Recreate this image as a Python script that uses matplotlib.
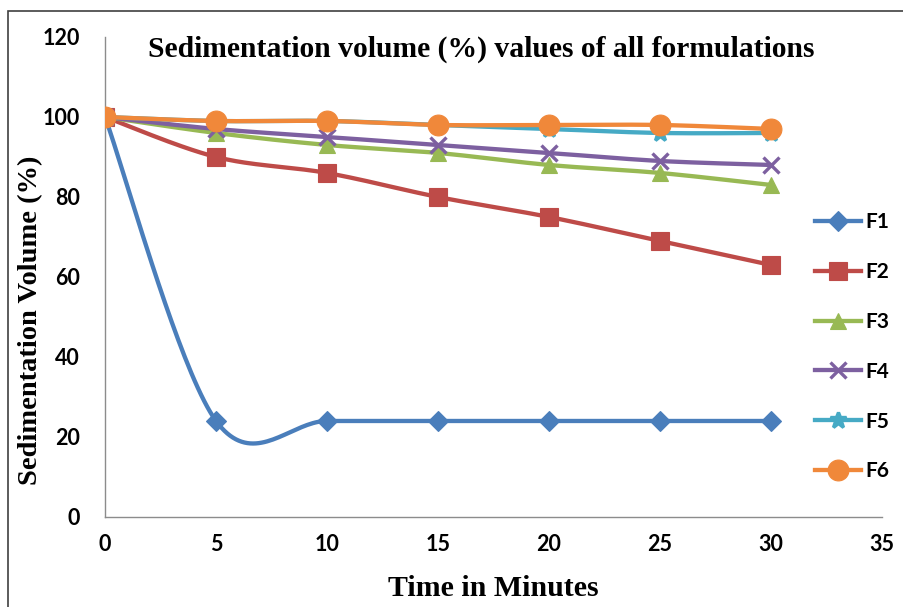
import numpy as np
import matplotlib
matplotlib.use("Agg")
import matplotlib.pyplot as plt
from matplotlib.patches import Rectangle
from matplotlib.lines import Line2D

# data
minutes = [0, 5, 10, 15, 20, 25, 30]
F1 = [100, 24, 24, 24, 24, 24, 24]
F2 = [100, 90, 86, 80, 75, 69, 63]
F3 = [100, 96, 93, 91, 88, 86, 83]
F4 = [100, 97, 95, 93, 91, 89, 88]
F5 = [100, 99, 99, 98, 97, 96, 96]
F6 = [100, 99, 99, 98, 98, 98, 97]
names = ["F1", "F2", "F3", "F4", "F5", "F6"]
series = [F1, F2, F3, F4, F5, F6]
colors = ["#4A7EBB", "#BE4B48", "#98B954", "#7D60A0", "#46AAC5", "#F0883A"]
markers = ["D", "s", "^", "x", "*", "o"]
msizes = [10.5, 13, 12, 12, 12, 15]


def smooth(x, y, n=40):
    # Excel-style smoothed line: Catmull-Rom through the points as cubic Beziers
    x = np.asarray(x, float)
    y = np.asarray(y, float)
    px = np.concatenate([[x[0]], x, [x[-1]]])
    py = np.concatenate([[y[0]], y, [y[-1]]])
    xs, ys = [], []
    t = np.linspace(0, 1, n)
    for i in range(1, len(px) - 2):
        p0 = np.array([px[i], py[i]])
        p3 = np.array([px[i + 1], py[i + 1]])
        c1 = p0 + (np.array([px[i + 1], py[i + 1]]) - np.array([px[i - 1], py[i - 1]])) / 6
        c2 = p3 - (np.array([px[i + 2], py[i + 2]]) - np.array([px[i], py[i]])) / 6
        b = ((1 - t) ** 3)[:, None] * p0 + (3 * t * (1 - t) ** 2)[:, None] * c1 \
            + (3 * t ** 2 * (1 - t))[:, None] * c2 + (t ** 3)[:, None] * p3
        xs.extend(b[:, 0])
        ys.extend(b[:, 1])
    return xs, ys


fig = plt.figure(figsize=(9.04, 6.07), dpi=100)
ax = fig.add_axes([0.1162, 0.1483, 0.8595, 0.7908])

handles = []
for name, vals, c, m, ms in zip(names, series, colors, markers, msizes):
    sx, sy = smooth(minutes, vals)
    ax.plot(sx, sy, color=c, lw=3.1, solid_capstyle="round", zorder=2)
    mew = 2.4 if m in ("x", "*") else 0.8
    ax.plot(minutes, vals, ls="none", marker=m, ms=ms, color=c, mec=c, mew=mew, zorder=3)
    handles.append(Line2D([], [], color=c, lw=3.1, marker=m, ms=ms, mec=c, mew=mew))

ax.set_xlim(0, 35)
ax.set_ylim(0, 120)
ax.set_xticks(range(0, 36, 5))
ax.set_yticks(range(0, 121, 20))
for s in ["top", "right"]:
    ax.spines[s].set_visible(False)
for s in ["left", "bottom"]:
    ax.spines[s].set_color("#8C8C8C")
    ax.spines[s].set_linewidth(1.0)
ax.tick_params(axis="x", length=0, pad=12)
ax.tick_params(axis="y", length=0, pad=18)
for lab in ax.get_xticklabels() + ax.get_yticklabels():
    lab.set_fontfamily("Lato")
    lab.set_fontweight("bold")
    lab.set_fontsize(15.5)

fig.text(0.532, 0.918, "Sedimentation volume (%) values of all formulations",
         ha="center", va="center", family="Liberation Serif", weight="bold", fontsize=21.3)
fig.text(0.546, 0.031, "Time in Minutes", ha="center", va="center",
         family="Liberation Serif", weight="bold", fontsize=21.5)
fig.text(0.034, 0.473, "Sedimentation Volume (%)", ha="center", va="center", rotation=90,
         family="Liberation Serif", weight="bold", fontsize=20.5)

leg = fig.legend(handles, names, loc="upper left", bbox_to_anchor=(0.881, 0.681),
                 frameon=False, handlelength=2.2, handletextpad=0.2, labelspacing=1.43,
                 prop={"family": "Lato", "weight": "bold", "size": 15})

# chart area border (cut at right and bottom in the reference)
fig.patches.append(Rectangle((8 / 904, -0.05), 1.0, 1 - 11 / 607 + 0.05,
                             transform=fig.transFigure, fill=False,
                             edgecolor="#404040", lw=1.2))

fig.savefig("out.png", dpi=100)
